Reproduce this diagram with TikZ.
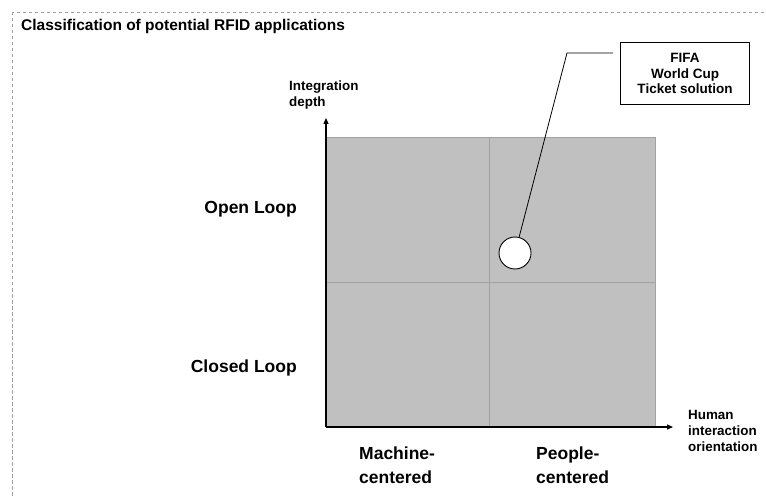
\documentclass[tikz,border=0pt]{standalone}
\usepackage{fontspec}
\setmainfont{Liberation Sans}
\usetikzlibrary{arrows.meta}
\definecolor{quadgray}{HTML}{C0C0C0}
\definecolor{gridgray}{HTML}{A2A2A2}
\definecolor{framegray}{HTML}{A0A0A0}
\begin{document}
\begin{tikzpicture}[x=1pt,y=-1pt,
  bigtext/.style={font=\bfseries\fontsize{17.5}{23.5}\selectfont, inner sep=0pt, align=left},
  smalltext/.style={font=\bfseries\fontsize{13.4}{16}\selectfont, inner sep=0pt, align=left},
  axisline/.style={line width=1.2pt, -{Triangle[length=6pt,width=5pt]}},
  gridline/.style={gridgray, line width=0.9pt},
  leader/.style={line width=0.8pt, black}]
\useasboundingbox (0,0) rectangle (766,497);

% dashed outer frame (runs off the right and bottom edges)
\draw[framegray, line width=0.8pt, dash pattern=on 3.5pt off 2.5pt] (12,12) rectangle (800,530);

\node[anchor=west, font=\bfseries\fontsize{15.5}{18}\selectfont, inner sep=0pt] (title) at (21,26)
  {Classification of potential RFID applications};

% the four quadrants
\fill[quadgray] (326,137) rectangle (655,427);
\draw[gridline] (489.5,137) -- (489.5,427);
\draw[gridline] (326,282) -- (655,282);
\draw[gridline] (326,137) rectangle (655,427);

% axes
\coordinate (origin) at (326,427);
\coordinate (ytip) at (326,118);
\coordinate (xtip) at (673,427);
\draw[axisline] (origin) -- (ytip);
\draw[axisline] (origin) -- (xtip);

% axis titles
\node[smalltext, anchor=west] (ylabel) at (289,95) {Integration\\depth};
\node[smalltext, anchor=west] (xlabel) at (688,431) {Human\\interaction\\orientation};

% row and column labels
\node[bigtext, anchor=east] (open) at (297,209) {Open Loop};
\node[bigtext, anchor=east] (closed) at (297,368) {Closed Loop};
\node[bigtext, anchor=west] (machine) at (359,465) {Machine-\\centered};
\node[bigtext, anchor=west] (people) at (536,465) {People-\\centered};

% positioned application and its callout
\node[circle, draw, fill=white, line width=0.9pt, minimum size=32pt, inner sep=0pt] (dot) at (515,253) {};
\node[draw, line width=0.8pt, minimum width=129.5pt, minimum height=61.5pt, inner sep=0pt,
      align=center, font=\bfseries\fontsize{13.5}{15.5}\selectfont] (box) at (685,73.5)
  {FIFA\\World Cup\\Ticket solution};
\coordinate (bend) at (567,53);
\coordinate (leadend) at (613,53);
\draw[leader] (dot) -- (bend) -- (leadend);
\end{tikzpicture}
\end{document}
